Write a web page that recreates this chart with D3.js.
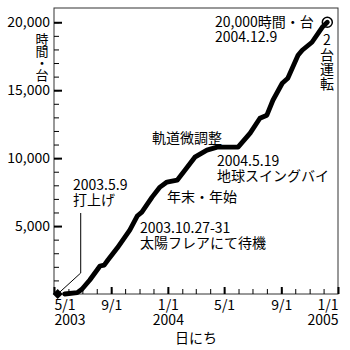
<!DOCTYPE html>
<html>
<head>
<meta charset="utf-8">
<script src="https://cdn.jsdelivr.net/npm/d3@7"></script>
<style>
  body { margin: 0; background: #fff; }
  text { font-family: "Noto Sans CJK JP", "Noto Sans", sans-serif; fill: #000; }
</style>
</head>
<body>
<div id="chart"></div>
<script>
const width = 350;
const height = 350;
const margin = { top: 8, right: 12, bottom: 56, left: 54 };

// cumulative operation (hours x units)
const dates = ["2003-05-09", "2003-05-24", "2003-06-20", "2003-06-30", "2003-07-17", "2003-08-08",
    "2003-08-17", "2003-08-25", "2003-09-14", "2003-10-11", "2003-10-27", "2003-11-06",
    "2003-11-28", "2003-12-15", "2003-12-30", "2004-01-21", "2004-02-07", "2004-02-28",
    "2004-03-25", "2004-04-16", "2004-05-31", "2004-06-26", "2004-07-17", "2004-08-01",
    "2004-08-14", "2004-09-03", "2004-09-15", "2004-10-07", "2004-10-16", "2004-11-06",
    "2004-11-28", "2004-12-09"];
const hours = [0, 0, 100, 350, 1030, 2060, 2130, 2500, 3380, 4710, 5740, 6030,
    7130, 7870, 8240, 8380, 9120, 10070, 10590, 10810, 10810, 11840, 12940, 13160,
    14260, 15510, 15880, 17570, 17940, 18530, 19630, 20000];

const yMajor = [5000, 10000, 15000, 20000];
const xMajor = ["2003-05-01", "2003-09-01", "2004-01-01", "2004-05-01", "2004-09-01", "2005-01-01"];
const xLabels = [["5/1", "2003"], ["9/1", ""], ["1/1", "2004"], ["5/1", ""], ["9/1", ""], ["1/1", "2005"]];

const parse = d3.timeParse("%Y-%m-%d");
const data = dates.map((d, i) => ({ date: parse(d), value: hours[i] }));

const x = d3.scaleTime()
    .domain([parse("2003-05-01"), parse("2005-01-01")])
    .range([margin.left, width - margin.right]);
const y = d3.scaleLinear()
    .domain([0, 21050])
    .range([height - margin.bottom, margin.top]);

const svg = d3.select("#chart").append("svg")
    .attr("width", width)
    .attr("height", height);

// frame
svg.append("rect")
    .attr("x", margin.left)
    .attr("y", margin.top)
    .attr("width", width - margin.left - margin.right)
    .attr("height", height - margin.top - margin.bottom)
    .attr("fill", "none")
    .attr("stroke", "#333")
    .attr("stroke-width", 1);

// y axis: minor ticks every 1000, major every 5000
svg.append("g")
    .attr("transform", `translate(${margin.left},0)`)
    .call(d3.axisLeft(y).tickValues(d3.range(1000, 21000, 1000)).tickSize(-5).tickFormat(""))
    .call(g => g.select(".domain").remove())
    .call(g => g.selectAll(".tick line").attr("stroke", "#000").attr("stroke-width", 1));

svg.append("g")
    .attr("transform", `translate(${margin.left},0)`)
    .call(d3.axisLeft(y).tickValues(yMajor).tickSize(-8).tickPadding(4).tickFormat(d3.format(",")))
    .call(g => g.select(".domain").remove())
    .call(g => g.selectAll(".tick line").attr("stroke", "#000").attr("stroke-width", 2))
    .call(g => g.selectAll(".tick text").style("font-size", "14px").attr("fill", "#000"));

// x axis: minor monthly, major every 4 months
svg.append("g")
    .attr("transform", `translate(0,${height - margin.bottom})`)
    .call(d3.axisBottom(x).ticks(d3.timeMonth.every(1)).tickSize(-5).tickFormat(""))
    .call(g => g.select(".domain").remove())
    .call(g => g.selectAll(".tick line").attr("stroke", "#000").attr("stroke-width", 1));

const xAxis = svg.append("g")
    .attr("transform", `translate(0,${height - margin.bottom})`)
    .call(d3.axisBottom(x).tickValues(xMajor.map(parse)).tickSize(-7).tickFormat(""))
    .call(g => g.select(".domain").remove())
    .call(g => g.selectAll(".tick line").attr("stroke", "#000").attr("stroke-width", 2));

xAxis.selectAll(".tick").each(function (d, i) {
    const t = d3.select(this).append("text")
        .attr("fill", "#000")
        .style("font-size", "14px")
        .attr("text-anchor", i === 0 ? "start" : i === xMajor.length - 1 ? "end" : "middle");
    t.append("tspan").attr("x", 0).attr("y", 15.5).text(xLabels[i][0]);
    t.append("tspan").attr("x", 0).attr("y", 30.5).text(xLabels[i][1]);
});

svg.append("text")
    .attr("x", (x.range()[0] + x.range()[1]) / 2)
    .attr("y", 343)
    .attr("text-anchor", "middle")
    .style("font-size", "14px")
    .text("日にち");

// vertical labels
svg.append("text")
    .attr("x", 42)
    .attr("y", 33)
    .style("writing-mode", "vertical-rl")
    .style("text-orientation", "upright")
    .style("font-size", "13px")
    .style("letter-spacing", "-1px")
    .text("時間・台");

svg.append("text")
    .attr("x", 327)
    .attr("y", 33)
    .style("writing-mode", "vertical-rl")
    .style("text-orientation", "upright")
    .style("font-size", "14px")
    .style("letter-spacing", "0.5px")
    .text("2台運転");

// leader line for launch
const launch = data[0];
svg.append("path")
    .attr("d", d3.line()([
        [x(launch.date), y(0)],
        [x(launch.date) + 23, y(0) - 21],
        [x(launch.date) + 23, y(0) - 81]
    ]))
    .attr("fill", "none")
    .attr("stroke", "#000")
    .attr("stroke-width", 1);

// main curve
svg.append("path")
    .datum(data.slice(1))
    .attr("d", d3.line().x(d => x(d.date)).y(d => y(d.value)))
    .attr("fill", "none")
    .attr("stroke", "#000")
    .attr("stroke-width", 4.8)
    .attr("stroke-linejoin", "round")
    .attr("stroke-linecap", "round");

// launch diamond
svg.append("path")
    .attr("d", d3.symbol().type(d3.symbolDiamond2).size(64)())
    .attr("transform", `translate(${x(launch.date)},${y(0)})`)
    .attr("fill", "#000");

// end marker
const last = data[data.length - 1];
svg.append("circle")
    .attr("cx", x(last.date))
    .attr("cy", y(last.value))
    .attr("r", 5)
    .attr("fill", "none")
    .attr("stroke", "#000")
    .attr("stroke-width", 1.5);

// annotations
const notes = [
    { x: 215, y: 27, lines: ["20,000時間・台", "2004.12.9"] },
    { x: 152, y: 143, lines: ["軌道微調整"] },
    { x: 217, y: 166, lines: ["2004.5.19", "地球スイングバイ"] },
    { x: 167, y: 202, lines: ["年末・年始"] },
    { x: 140, y: 233, lines: ["2003.10.27-31", "太陽フレアにて待機"] },
    { x: 73, y: 190, lines: ["2003.5.9", "打上げ"] }
];
notes.forEach(n => {
    const t = svg.append("text").style("font-size", "14px");
    n.lines.forEach((l, i) => {
        t.append("tspan").attr("x", n.x).attr("y", n.y + i * 15).text(l);
    });
});
</script>
</body>
</html>
